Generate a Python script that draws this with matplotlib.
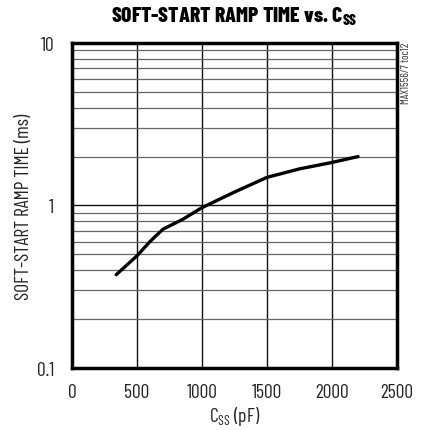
import matplotlib
matplotlib.use("Agg")
import matplotlib.pyplot as plt
from matplotlib.ticker import FixedLocator, NullFormatter

# curve
css_pf = [340, 500, 600, 700, 850, 1000, 1250, 1500, 1750, 2000, 2200]
ramp_ms = [0.375, 0.49, 0.60, 0.715, 0.82, 0.97, 1.21, 1.49, 1.68, 1.84, 2.0]

x_ticks = [0, 500, 1000, 1500, 2000, 2500]
y_ticks = [0.1, 1, 10]
y_tick_labels = ["0.1", "1", "10"]
y_minor = [m * d for d in (0.1, 1) for m in range(2, 10)]

plt.rcParams["font.family"] = ["Barlow Condensed", "DejaVu Sans"]
plt.rcParams["font.stretch"] = "condensed"
plt.rcParams["mathtext.fontset"] = "custom"
plt.rcParams["mathtext.rm"] = "Barlow Condensed"
plt.rcParams["mathtext.bf"] = "Barlow Condensed:weight=800"

fig = plt.figure(figsize=(4.29, 4.31), dpi=100)
ax = fig.add_axes([0.1678, 0.1439, 0.7576, 0.754])

ax.plot(css_pf, ramp_ms, color="black", lw=2.4, solid_capstyle="round")

ax.set_yscale("log")
ax.set_xlim(0, 2500)
ax.set_ylim(0.1, 10)
ax.set_xticks(x_ticks)
ax.set_yticks(y_ticks)
ax.set_yticklabels(y_tick_labels)
ax.yaxis.set_minor_locator(FixedLocator(y_minor))
ax.yaxis.set_minor_formatter(NullFormatter())
ax.tick_params(which="both", length=0, labelsize=14, colors="#222222")
ax.tick_params(axis="x", pad=11)
ax.tick_params(axis="y", pad=13)

ax.grid(True, which="major", color="#111111", lw=1.0)
ax.grid(True, which="minor", axis="y", color="#666666", lw=0.9)
for s in ax.spines.values():
    s.set_linewidth(2.5)
    s.set_color("black")

ax.set_xlabel("C$_{\\mathregular{SS}}$ (pF)", fontsize=14, color="#222222", labelpad=2)
ax.set_ylabel("SOFT-START RAMP TIME (ms)", fontsize=14, color="#222222", labelpad=3)

fig.text(0.547, 0.962, "SOFT-START RAMP TIME vs. C$_{\\mathbf{SS}}$", ha="center", va="center",
         fontsize=15.5, fontweight=800, color="black")
fig.text(0.946, 0.90, "MAX1556/7 toc12", rotation=90, ha="center", va="top",
         fontsize=8, color="#333333")

fig.savefig("out.png", dpi=100)
